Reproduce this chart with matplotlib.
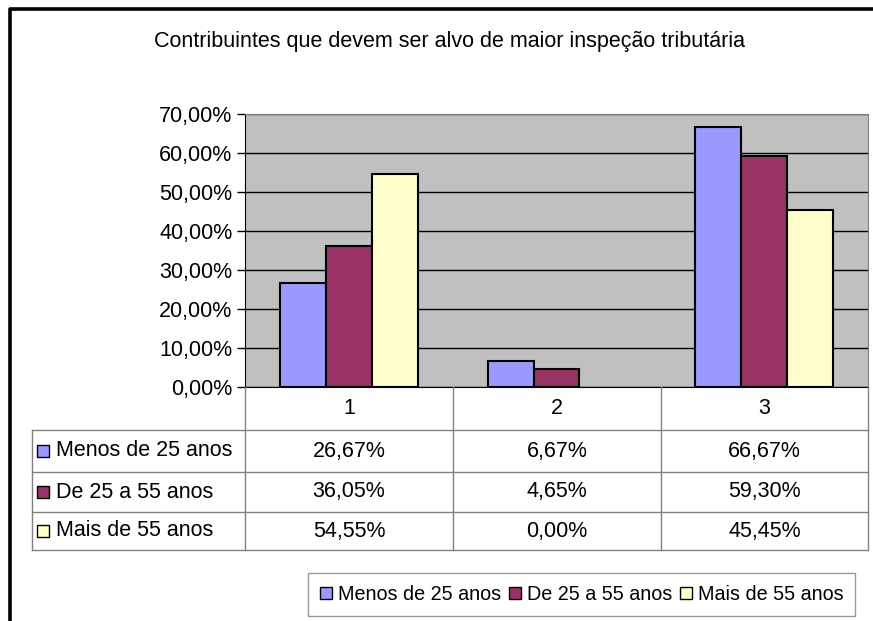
import matplotlib.pyplot as plt
from matplotlib.patches import Rectangle, Patch
from matplotlib.ticker import FuncFormatter

plt.rcParams['font.family'] = ['Liberation Sans', 'DejaVu Sans']

# Data
categorias = ['1', '2', '3']
series = ['Menos de 25 anos', 'De 25 a 55 anos', 'Mais de 55 anos']
menos_25 = [26.67, 6.67, 66.67]
de_25_55 = [36.05, 4.65, 59.30]
mais_55 = [54.55, 0.00, 45.45]
valores = [menos_25, de_25_55, mais_55]
cores = ['#9999FF', '#993366', '#FFFFCC']

W, H = 873, 621
FS = 15.5
fig = plt.figure(figsize=(W / 100, H / 100), dpi=100)


def box(x0, y0, x1, y1):
    # pixel box -> figure fraction [left, bottom, width, height]
    return [x0 / W, 1 - y1 / H, (x1 - x0) / W, (y1 - y0) / H]


# outer frame (right/bottom edges run off the canvas)
frame = fig.add_axes(box(0, 0, W, H))
frame.set_xlim(0, W)
frame.set_ylim(H, 0)
frame.axis('off')
frame.plot([9.5, 9.5, W + 5], [H + 5, 8.5, 8.5], color='black', lw=2.6)

fig.text(450 / W, 1 - 42 / H, 'Contribuintes que devem ser alvo de maior inspeção tributária',
         ha='center', va='center', fontsize=FS)

# bar chart
ax = fig.add_axes(box(245, 114, 868, 387))
ax.set_facecolor('#C0C0C0')
x = range(len(categorias))
largura = 0.221
for i, (nome, vals, cor) in enumerate(zip(series, valores, cores)):
    pos = [k + (i - 1) * largura for k in x]
    lws = [1.5 if v > 0 else 0 for v in vals]
    ax.bar(pos, vals, width=largura, color=cor, edgecolor='black', linewidth=lws,
           label=nome, zorder=3)

ax.set_xlim(-0.5, 2.5)
ax.set_ylim(0, 70)
ax.set_yticks(range(0, 71, 10))
ax.yaxis.set_major_formatter(FuncFormatter(lambda v, p: f'{v:.2f}%'.replace('.', ',')))
ax.set_xticks([])
ax.grid(axis='y', color='black', lw=1, zorder=1)
ax.tick_params(axis='y', length=6, width=1, pad=3, labelsize=FS)
ax.spines['top'].set_color('#808080')
ax.spines['right'].set_color('#808080')
ax.spines['left'].set_color('black')
ax.spines['bottom'].set_color('black')

# data table below the chart
tb = fig.add_axes(box(0, 387, W, 560))
tb.set_xlim(0, W)
tb.set_ylim(560, 387)
tb.axis('off')
col_x = [245, 453, 661, 868]
row_y = [387, 430, 472, 512, 550]
linha = '#808080'
for yy in row_y[1:]:
    tb.plot([32, 868], [yy, yy], color=linha, lw=1)
tb.plot([32, 32], [430, 550], color=linha, lw=1)
for xx in col_x:
    tb.plot([xx, xx], [387, 550], color=linha, lw=1)

for j, cat in enumerate(categorias):
    cx = (col_x[j] + col_x[j + 1]) / 2
    tb.text(cx, (row_y[0] + row_y[1]) / 2, cat, ha='center', va='center', fontsize=FS)
    for i, vals in enumerate(valores):
        cy = (row_y[i + 1] + row_y[i + 2]) / 2
        tb.text(cx, cy, f'{vals[j]:.2f}%'.replace('.', ','), ha='center', va='center', fontsize=FS)

for i, (nome, cor) in enumerate(zip(series, cores)):
    cy = (row_y[i + 1] + row_y[i + 2]) / 2
    tb.add_patch(Rectangle((37, cy - 6), 12, 12, facecolor=cor, edgecolor='black', lw=1))
    tb.text(56, cy, nome, ha='left', va='center', fontsize=FS)

# legend
handles = [Patch(facecolor=c, edgecolor='black', lw=1) for c in cores]
leg = fig.legend(handles, series, loc='upper right', bbox_to_anchor=(855 / W, 1 - 573 / H),
                 ncol=3, fontsize=14.2, frameon=True, fancybox=False, borderaxespad=0,
                 handlelength=0.6, handleheight=0.6, handletextpad=0.3, columnspacing=0.4,
                 borderpad=0.6)
leg.get_frame().set_edgecolor('#808080')
leg.get_frame().set_linewidth(1)

fig.savefig('out.png', dpi=100)
